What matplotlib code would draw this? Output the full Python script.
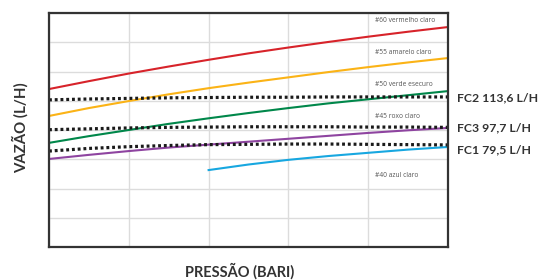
import matplotlib
matplotlib.use("Agg")
import matplotlib.pyplot as plt

# Data (grid units: x = pressure grid 0..5, y = flow grid 0..8)
x_full = [0, 0.5, 1, 1.5, 2, 2.5, 3, 3.5, 4, 4.5, 5]
red = [5.40, 5.67, 5.93, 6.17, 6.40, 6.62, 6.82, 7.01, 7.19, 7.36, 7.52]
yellow = [4.48, 4.75, 4.99, 5.22, 5.43, 5.62, 5.80, 5.98, 6.15, 6.31, 6.46]
green = [3.56, 3.79, 4.00, 4.21, 4.40, 4.58, 4.75, 4.91, 5.05, 5.19, 5.33]
purple = [3.01, 3.15, 3.28, 3.40, 3.50, 3.60, 3.70, 3.80, 3.90, 3.99, 4.07]
x_blue = [2, 2.5, 3, 3.5, 4, 4.5, 5]
blue = [2.63, 2.82, 2.98, 3.11, 3.22, 3.33, 3.42]

fc2 = [5.03, 5.06, 5.08, 5.10, 5.11, 5.12, 5.12, 5.13, 5.13, 5.13, 5.13]
fc3 = [4.01, 4.04, 4.07, 4.09, 4.10, 4.11, 4.11, 4.11, 4.10, 4.10, 4.09]
fc1 = [3.28, 3.37, 3.43, 3.47, 3.50, 3.51, 3.52, 3.52, 3.51, 3.50, 3.49]

series_labels = ["#60 vermelho claro", "#55 amarelo claro", "#50 verde esecuro",
                 "#45 roxo claro", "#40 azul claro"]
label_y = [7.75, 6.65, 5.55, 4.45, 2.45]
fc_labels = ["FC2 113,6 L/H", "FC3 97,7 L/H", "FC1 79,5 L/H"]
fc_label_y = [5.10, 4.07, 3.32]

plt.rcParams['font.family'] = ['Open Sans', 'DejaVu Sans']

fig = plt.figure(figsize=(5.39, 2.8), dpi=100)
ax = fig.add_axes([49 / 539, 33 / 280, 399 / 539, 234 / 280])
ax.set_xlim(0, 5)
ax.set_ylim(0, 8)
ax.set_xticks(range(0, 6))
ax.set_yticks(range(0, 9))
ax.grid(True, color='#dcdcdc', linewidth=1.0)
ax.set_axisbelow(True)
ax.tick_params(length=0, labelbottom=False, labelleft=False)
for s in ax.spines.values():
    s.set_color('#333333')
    s.set_linewidth(1.6)

ax.plot(x_full, red, color='#d7232a', lw=1.5)
ax.plot(x_full, yellow, color='#fbb316', lw=1.5)
ax.plot(x_full, green, color='#00874a', lw=1.5)
ax.plot(x_full, purple, color='#8e44a0', lw=1.5)
ax.plot(x_blue, blue, color='#17a7e0', lw=1.5)

dot = (0, (0.9, 0.9))
for fc in (fc2, fc3, fc1):
    ax.plot(x_full, fc, color='#1a1a1a', lw=2.3, linestyle=dot, dash_capstyle='butt')

for lab, yy in zip(series_labels, label_y):
    ax.text(4.08, yy, lab, fontsize=4.8, color='#555555', va='center', ha='left')

for lab, yy in zip(fc_labels, fc_label_y):
    ax.annotate(lab, xy=(5, yy), xytext=(457 / 539, yy), textcoords=('figure fraction', 'data'),
                fontsize=8.8, fontweight='bold', color='#333333', va='center', ha='left',
                family=['Lato', 'DejaVu Sans'], annotation_clip=False)

fig.text(240 / 539, 1 - 271 / 280, "PRESSÃO (BARI)", fontsize=10.5, fontweight='bold',
         color='#333333', ha='center', va='center', family=['Lato', 'DejaVu Sans'])
fig.text(20 / 539, 1 - 128 / 280, "VAZÃO (L/H)", fontsize=10.8, fontweight='bold',
         color='#333333', ha='center', va='center', rotation=90, family=['Lato', 'DejaVu Sans'])

fig.savefig("out.png", dpi=100)
